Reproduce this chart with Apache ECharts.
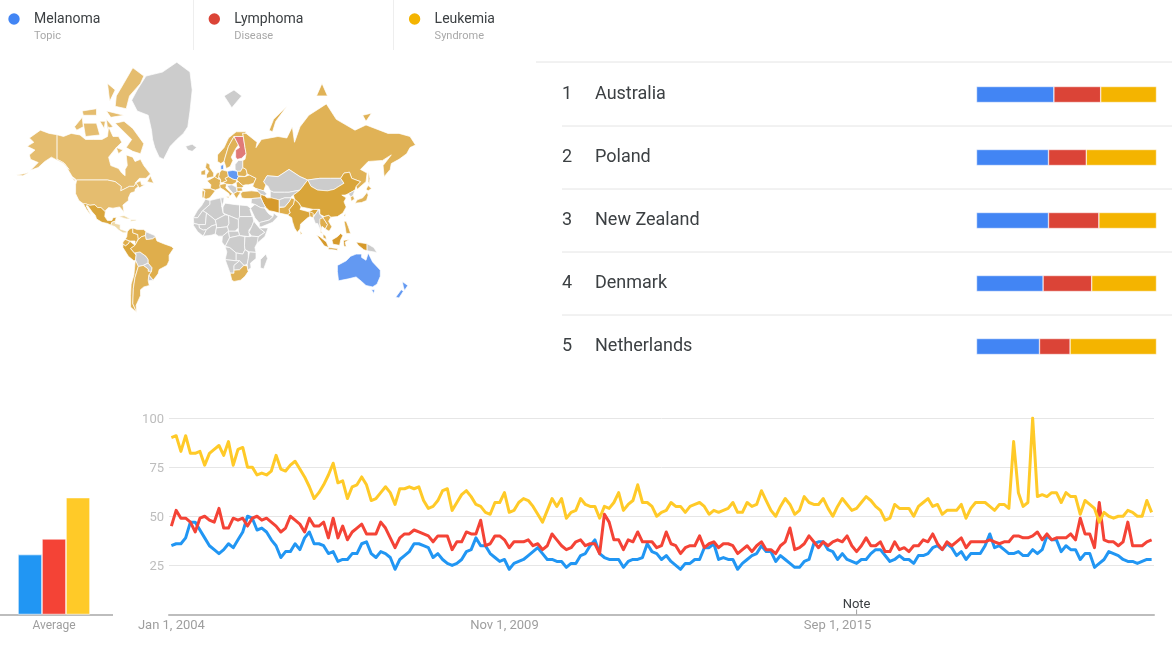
<!DOCTYPE html>
<html><head><meta charset="utf-8">
<style>html,body{margin:0;padding:0;background:#fff}#c{width:1172px;height:647px}</style>
<script src="https://cdn.jsdelivr.net/npm/echarts@6/dist/echarts.min.js"></script>
</head><body><div id="c"></div>
<script>
const topics = ['Melanoma','Lymphoma','Leukemia'];
const topicTypes = ['Topic','Disease','Syndrome'];
const topicColors = ['#4285f4','#db4437','#f4b400'];
const lineColors = ['#2196f3','#f44336','#ffca28'];

const melanoma = [35,36,36,39,47,47,43,39,35,33,31,33,36,34,38,42,50,49,43,44,42,38,35,29,32,32,36,33,39,42,36,36,35,31,32,27,28,28,31,31,36,37,31,29,32,31,29,23,28,30,32,36,36,35,34,29,31,28,26,25,26,28,32,33,39,
35,35,31,29,27,28,23,26,27,28,30,32,34,31,28,28,27,27,24,26,26,30,31,35,38,31,29,28,28,28,24,27,28,28,29,36,32,31,28,30,27,25,23,26,26,28,28,34,34,36,28,29,28,28,23,26,28,30,31,35,32,32,27,30,28,26,24,24,27,28,36,37,
37,33,32,28,31,28,27,26,28,28,31,33,33,30,27,28,30,28,28,26,30,30,31,34,35,33,36,34,30,32,28,31,31,31,35,41,34,35,33,31,31,32,30,30,33,31,33,40,38,38,32,35,33,33,28,31,31,24,26,28,32,31,30,28,27,27,26,27,28,28];
const lymphoma = [45,53,49,49,47,42,49,50,48,47,54,44,44,49,48,49,45,49,50,48,49,47,45,42,44,50,48,46,42,49,45,45,47,39,49,39,45,38,42,44,46,41,41,41,47,44,39,34,39,41,41,43,42,41,40,37,40,40,40,33,37,37,42,41,41,
48,35,36,40,40,38,34,37,37,37,38,35,36,33,35,41,38,35,33,34,37,38,35,36,36,31,51,47,38,38,33,38,37,42,37,37,37,34,35,42,36,35,31,34,35,35,40,34,36,37,34,36,36,35,31,33,35,32,35,37,33,33,31,35,37,44,33,34,36,40,37,34,
37,35,37,38,37,40,35,32,35,39,35,35,37,32,32,37,33,34,32,35,35,38,37,41,36,33,37,35,37,39,34,37,37,37,37,38,37,36,37,37,40,40,39,39,40,42,38,41,38,39,39,39,41,38,49,41,41,34,57,38,37,37,35,37,47,35,35,35,37,38];
const leukemia = [90,91,83,91,82,82,83,76,82,84,86,81,88,76,84,85,75,75,71,72,71,73,81,74,73,76,78,74,70,65,59,62,66,71,77,67,68,59,65,66,70,66,58,59,62,65,62,56,64,64,65,64,65,58,54,55,58,63,64,53,57,61,63,60,56,
55,52,51,57,57,62,52,53,57,59,58,55,51,47,53,59,55,59,49,52,53,59,56,55,55,49,55,54,57,62,53,56,58,66,57,57,55,50,52,53,57,55,55,52,55,56,57,55,51,53,52,53,54,57,52,52,57,55,56,63,58,53,50,55,59,56,51,53,60,57,56,56,
59,54,50,55,59,56,53,54,57,60,58,55,53,48,49,56,54,54,54,50,55,57,59,55,56,51,53,53,53,56,49,54,57,57,57,55,53,56,56,54,88,62,55,57,100,60,61,60,62,62,57,62,60,60,51,58,56,54,47,52,50,49,50,50,53,52,50,50,58,52];

const averages = [30.5,38.5,59.5];
const rankCountries = ['Australia','Poland','New Zealand','Denmark','Netherlands'];
const rankMelanoma = [43,40,40,37,35];
const rankLymphoma = [26,21,28,27,17];
const rankLeukemia = [31,39,32,36,48];

const yTicks = [0,25,50,75,100];
const noteMonth = 144;
const months = ['Jan','Feb','Mar','Apr','May','Jun','Jul','Aug','Sep','Oct','Nov','Dec'];
const categories = melanoma.map((_, i) => months[i % 12] + ' 1, ' + (2004 + Math.floor(i / 12)));

// Country outlines, longitude latitude pairs; several parts separated by "|".
const outlines = {
Canada:"-141 69.6,-135 69,-128 70,-120 69.5,-115 68,-108 68,-100 68,-95 69,-94 72,-90 69,-85 69,-82 67,-87 65,-94 61,-92 57,-85 55.5,-82 53,-79 51.5,-79 55,-77 57,-78 62,-72 61,-70 59,-65 60,-62 57,-56 52.5,-60 50,-66 50,-70 47,-65 48.5,-64 46,-61 46,-66 44,-67 45,-69 47,-71 45,-75 45,-79 43.5,-83 42,-82.5 45,-88 48,-95 49,-123 49,-127 51,-130 54,-134 58,-137 59,-141 60|-80 73.5,-72 71.5,-62 66.5,-65 62.5,-72 63.5,-78 65,-73 68,-88 73|-117 73,-105 73,-102 69.5,-115 69|-88 77,-78 76.5,-75 79,-65 81,-62 82,-72 83,-82 80.5,-87 79|-95 81,-88 80,-93 78|-125 72,-118 74.5,-117 72,-123 71|-96 76,-80 75,-92 74.5|-118 76,-105 76.5,-105 75,-117 75|-96 74,-90 72,-95 71.5|-102 73.5,-97 73.5,-98 71.5|-87 65,-81 64,-85 62.5|-59 48,-56 51.5,-53 47|-128 50.5,-124 49,-125 48.5",
USA:"-141 69.6,-141 60,-137 59,-134 58,-130 55,-135 58,-146 61,-152 59,-158 56,-165 54.5,-158 58.5,-165 60,-166 62,-161 64,-168 65.5,-162 67,-166 68.5,-156 71,-148 70|-123 49,-95 49,-88 48,-82.5 45,-83 42,-79 43.5,-75 45,-71 45,-69 47,-67 45,-70 43,-70 41.5,-74 40.5,-76 37,-76 35,-81 31.5,-80 25.5,-82 28,-84 30,-90 29,-94 29.5,-97 27,-97 26,-101 29.5,-104 29.5,-106.5 31.8,-111 31.3,-115 32.5,-117 32.5,-121 35,-124 40,-124 46|-178 52,-172 52.5,-166 53.5,-172 51.5",
Greenland:"-73 78.2,-68 80,-60 82,-45 82.5,-32 83.6,-20 82.5,-18 80,-20 76,-22 72,-26 70,-32 68,-38 65.5,-42 62,-44 60,-48 61,-52 65,-54 68,-55 71,-58 75,-68 76",
Iceland:"-24 65.5,-18 66.3,-14 65,-18 63.5,-22 64",
Svalbard:"11 79,20 80,27 79,18 76.7",
Mexico:"-117 32.5,-115 32.5,-111 31.3,-106.5 31.8,-104 29.5,-101 29.5,-97 26,-97.5 22,-95 18.5,-91 18.7,-90 21,-87 21.5,-88 18,-91 17,-92 14.5,-95 16,-100 17,-105 20,-106 23,-109 26,-113 31,-114.5 31,-111 25,-110 23,-114 28",
CentralAmerica:"-92 14.5,-91 17,-88 18,-88 16,-83.5 15,-83.5 11,-79 9.5,-77 8.5,-78 7.5,-81 7.5,-85 10,-88 13",
Caribbean:"-85 22,-80 23,-74 20,-78 20|-74 19.5,-69 19.5,-69 18.3,-74 18",
Colombia:"-77 8.5,-75 11,-72 12,-72 7.5,-67.5 6,-67 2,-70 -4,-70 0,-75 0,-79 1.5,-77.5 4",
Venezuela:"-72 12,-68 10.5,-62 10.5,-60 8.5,-60.5 5,-64 4,-67 1.5,-67.5 6,-72 7.5",
Guianas:"-60 8.5,-52 5,-51.5 4,-54 2,-58 1.5,-60 1.5,-60.5 5",
Ecuador:"-79 1.5,-75 0,-75.5 -2,-78.5 -4.5,-81 -3,-81 -1",
Peru:"-81 -3,-78.5 -4.5,-75.5 -2,-75 0,-70 -4,-74 -7,-70.5 -11,-69 -13,-69.5 -17.5,-71 -18,-76 -14,-81 -6",
Bolivia:"-69.5 -10,-65.5 -10,-60 -14,-58 -17,-58 -20,-62.5 -22,-67 -23,-69.5 -17.5,-69 -13",
Paraguay:"-62.5 -22,-58 -20,-54.5 -24,-55 -27,-58 -27,-58 -25",
Brazil:"-70 -4,-67 1.5,-64 4,-60.5 5,-60 1.5,-58 1.5,-54 2,-51.5 4,-50 0,-44 -2.5,-37 -5,-35 -7,-39 -13,-39 -18,-41 -22,-48 -25.5,-49 -29,-53.5 -34,-57.5 -30,-55 -27,-54.5 -24,-58 -20,-58 -17,-60 -14,-65.5 -10,-70.5 -11,-74 -7",
Uruguay:"-57.5 -30,-53.5 -34,-58 -34.5",
Chile:"-69.5 -17.5,-67 -23,-70 -32,-71.5 -40,-72 -50,-68.5 -55,-74 -52,-74 -45,-73.5 -37,-71 -30,-70 -20",
Argentina:"-67 -23,-62.5 -22,-58 -25,-58 -27,-55 -27,-57.5 -30,-58 -34.5,-57 -38,-62 -39,-65 -41,-65 -45,-69 -51,-68.5 -55,-72 -50,-71.5 -40,-70 -32",
Norway:"5 59,5 62,11 65,15 68.5,22 70.5,31 70.5,29 69,20 69,15 65.5,12 61,11 59,8 58",
Sweden:"11 59,12 61,15 65.5,20 69,24 66,21.5 64.5,17.5 61,19 59.5,16.5 56.5,13 55.5",
Finland:"20 69,29 69,28 70,30 65,31 62.5,27 60.5,23 60,21.5 61,21.5 64,25 65,24 66",
Denmark:"8 55,8 57,10.5 57.5,10.5 55",
UK:"-5 50,1.5 51,1.5 53,-2 56,-2 57.5,-5 58.5,-6 56,-3 54,-5 52",
Ireland:"-10 52,-6 52,-6 55,-10 54",
France:"-1.5 43.5,3 42.5,7.5 43.7,7.5 47.5,8 49,2.5 51,-1.5 49.5,-4.5 48.5,-1 46",
Spain:"-9 43.5,-1.5 43.5,3 42,0 39,-2 37,-5.5 36,-7.5 37,-6.5 42",
Portugal:"-9 37,-7.5 37,-6.5 42,-9 42",
Italy:"7.5 44,7 46,13 47,13 45.5,12.5 44,16 41.5,18.5 40,16 38,15.5 40,11 42.5|12.5 38,15.5 38,15 36.7",
Germany:"6 51,7 53.5,9 54.8,14 54,15 51,12 50,13.5 48.5,10 47.5,7.5 47.5,8 49",
Benelux:"2.5 51,6 49.5,6 51,7 53.5,4.5 53",
Poland:"14 54,19 54.5,23 54,24 51,22.5 49,19 49.5,15 51",
Baltics:"21 55,21 57.5,24 59.5,28 59.5,28 56,26 54,23 54",
Belarus:"23.5 51.5,23 54,26 54,28 56,31 55,32 52.5,30 51",
Ukraine:"22.5 49,24 51,30 51,34 52,40 50,38 47,33 46,30.5 46,28 45.5,24 48",
CentralEurope:"12 50,15 51,19 49.5,22.5 49,22 47.5,18 46,13 46.5,10 47.5,13.5 48.5",
Romania:"22 47.5,24 48,28 45.5,29 45,27 44,22.5 44",
Balkans:"13.5 45.5,18 46,22 44.5,23 41.5,19.5 40,16 43",
Bulgaria:"22.5 44,27 44,28 42,23 41.5",
Greece:"19.5 40,23 41.5,26 41,23.5 38,22.5 36.5,21 38",
Turkey:"26 40,28 41.5,36 42,42 41.5,44.5 39.5,44.5 37,36 36.5,30 36.5,27 37",
Russia:"28 56,28 59.5,30 60,31 62.5,30 65,28 70,31 70,41 67,40 65,45 68,60 69,68 68.5,73 72,75 67,80 72,88 75,104 77.5,113 74,130 71,140 72.5,160 70,170 70,180 69,185 66,180 65,177 62.5,170 60,163 58,162 55,156.5 51,155.5 57,163 62,155 59.5,142 59,135 55,141 53,140 48,132 43,131 45,135 48,127 50,125 53.5,120 53,117 50,108 50,98 50,87 49,80 51,70 55,60 51,50 51.5,47 48,49 46,47 42,40 43.5,37 45,38 47,40 50,34 52,32 52.5,31 55|142 54,143.5 50,143 46,142 48|52 71,56 74,68 77,58 73.5,55 70.5|95 79,105 79,100 81|137 75,145 75.5,140 73.5",
Kazakhstan:"49 46,47 48,50 51.5,60 51,70 55,80 51,87 49,80 42.5,70 41,66 41,56 41,53 42,51 45",
CentralAsia:"53 37,53 42,56 41,66 41,70 41,80 42.5,74 39,71 37,66 37,61 35.5",
Caucasus:"40 43.5,47 42,50 40,48 38.5,44.5 39.5,42 41.5",
Mongolia:"87 49,98 50,108 50,117 50,120 47,111 43,105 42,96 42.5,90 45",
China:"74 39,80 42.5,87 49,90 45,96 42.5,105 42,111 43,120 47,117 50,120 53,125 53.5,127 50,135 48,131 45,130 42.5,124 40,121 39,118 39,122 37,120 34,122 30,119 25,114 22,108 21.5,106 23,102 22,98 24,98 28,92 28,81 30,79 33,75 36",
NorthKorea:"124 40,130 42.5,128 38.5,126 37.8",
SouthKorea:"126 37.8,128.5 38.5,129.5 36,126.5 34.5",
Japan:"130 33,132 35.5,137 37,141 41,142 39,140.5 35,136 33.5|140 43,142 45.5,145 43.5,142 42",
Taiwan:"120 23,121.5 25,121 22",
India:"68.5 23.5,71 25,70 28,74 32,75 36,79 33,81 30,80 28,88 26,92 28,97 28,94 24,92 23,89 22,87 21,80.5 15.5,80 11,77.5 8,75 12,73 18,72.5 21",
Pakistan:"61 25,61 29.5,66 30,70 34,72 37,75 36,74 32,70 28,71 25,68.5 23.5",
Afghanistan:"61 30,61 35.5,66 37,71 37,72 37,70 34,66 30",
Iran:"44.5 39.5,48 38.5,50 37,54 37,61 35.5,61 29.5,61 25,57 26,52 27,48.5 30,46 34,44.5 37",
Iraq:"36 36.5,44.5 37,46 34,48.5 30,47 29,44 29.5,39 32,35.5 33",
Saudi:"35 29,39 32,44 29.5,48 29,50 26,52 24,55.5 22,52 19,44 17,43 16.5,39 21",
Oman:"43 13,43 16.5,44 17,52 19,55.5 22,56 25,60 22,55 17,45 13",
Egypt:"25 31.5,32 31,35 29,34.5 28,36.5 22,25 22",
Libya:"12 33,20 32,25 31.5,25 20,24 19.5,15 23,10 25,10 30",
Algeria:"-2 35,8 37,9 30,10 25,12 23.5,3 19,-5 25,-8.5 27,-2 32",
Tunisia:"8 37,11 37,10.5 34,10 33,9 30",
Morocco:"-6 36,-2 35,-2 32,-8.5 27,-13 21,-17 21,-13 27.5,-9.5 31",
Mauritania:"-17 21,-13 21,-8.5 27,-5 25,-6 15,-12 15,-16.5 16",
Mali:"-12 15,-6 15,-5 25,3 19,4 15,0 14,-5 10.5,-8 10,-11.5 12",
Niger:"3 19,12 23.5,15 23,15.5 16,14 13,4 12,4 15",
Chad:"15 23,24 19.5,24 12,21 9,15 9,14 13,15.5 16",
Sudan:"24 19.5,25 22,37 22,38 18,36 13,33.5 10,34 4,25 5,24 9,24 12",
Ethiopia:"36 13,38 18,43 12,48 8,42 4,36 4.5,33.5 8",
Somalia:"43 12,51 12,48 4,41 -2,41 3,48 8",
Senegal:"-17 14.5,-16.5 16,-12 15,-11.5 12,-8 10,-5 10.5,-8 4.5,-13 8.5",
IvoryCoast:"-8 4.5,-5 10.5,0 14,4 15,4 12,3 6.5,0 5.5,-3 5",
Nigeria:"3 6.5,4 12,14 13,15 9,9.5 4.5,6 4.5",
Cameroon:"9.5 4.5,15 9,16 3,14 -1,12 -5,9 -1",
CAR:"15 9,21 9,24 9,25 5,18 3.5,16 3",
DRC:"12 -5,14 -1,16 3,18 3.5,25 5,30 4,29.5 -4,30 -8,28 -12,22 -11,16 -6",
Kenya:"30 4,34 4,36 4.5,42 4,41 -2,39 -6,40 -10.5,34 -10,30 -8,29.5 -4",
Angola:"12 -5.5,16 -6,22 -11,22 -18,12 -17,13.5 -10",
Zambia:"22 -11,28 -12,30 -8,33 -10,33 -16,32 -21,29 -22,25 -18,22 -18",
Mozambique:"34 -10,40 -10.5,40 -16,35 -20,35.5 -24,32.5 -26,32 -21,33 -16",
Namibia:"12 -17,22 -18,25 -18,20 -22,20 -28.5,16.5 -28.5",
Botswana:"20 -22,25 -18,29 -22,25 -25.7,20 -26",
SouthAfrica:"16.5 -28.5,20 -28.5,20 -26,25 -25.7,29 -22,32 -22.5,32.5 -26,33 -27,30 -31,26 -34,20 -35,18 -34",
Madagascar:"44 -17,49 -12,50.5 -16,47 -25,44 -24",
Myanmar:"92 21,94 24,97 28,98 24,101 21,98 16,98.5 10,96 16,94 16",
Bangladesh:"88.5 26,92 25,92 21,89 22",
Thailand:"98 16,98 20,101 21,105 15,103 11,100 13.5,99 9,101 6.5,98.5 8,99 12",
Vietnam:"102 22,106 23,108 21.5,106 18,109 13,106.5 9,103 11,105 15,101 21",
Malaysia:"101 6.5,103.5 4.5,104 1.5,101 3",
Philippines:"120 18,122 18,124 13,126 7,122 7,121 13",
Indonesia:"95 5.5,98 4,104 -1,106 -6,102 -4.5|105.5 -6,114 -7,114 -8.5,106 -7.5|109 1,114 4,117 7,119 5,117 1,116 -4,110 -3|119.5 0.5,125 1.5,121 -1,122 -5,120 -5|131 -1,141 -2.5,141 -9,138 -8,133 -4",
PNG:"141 -2.5,147 -6,150 -10.5,141 -9",
SriLanka:"80 9.5,82 7,80.5 6",
Australia:"114 -22,122 -18,126 -14,131 -12,136 -12,136 -15,140 -17.5,142 -11,146 -19,153 -26,153 -31,150 -37,146 -39,140 -38,136 -35,131 -31.5,124 -33,115 -34.5,114 -27|145 -41,148 -41,147 -43.5",
NewZealand:"173 -35,178 -38,175 -41.5,174 -39|172 -41,174 -42,170 -46.5,167 -46"
};

// Which map colour each country takes.
const mapShades = {
 '#e5bd6f':['Canada','USA'],
 '#e0b256':['Russia','Argentina','Chile','Norway','Sweden','UK','Ireland','France','Spain','Portugal','Italy','Germany','Benelux','Belarus','Ukraine','CentralEurope','Romania','Bulgaria','Greece','Turkey','SouthAfrica','Japan','SouthKorea','Taiwan'],
 '#dfae4c':['Brazil','Venezuela','Colombia','Ecuador','Pakistan','Malaysia','Philippines','Thailand','Vietnam','Bangladesh','SriLanka'],
 '#d9a53a':['China','India','Mexico','Peru'],
 '#d69a2c':['Iran','Indonesia'],
 '#eed9a8':['CentralAmerica','Caribbean'],
 '#6399f2':['Australia','NewZealand','Poland','Denmark'],
 '#e07a78':['Finland']
};

const features = Object.keys(outlines).map(name => ({
  type:'Feature', properties:{name},
  geometry:{type:'MultiPolygon', coordinates: outlines[name].split('|').map(part => {
    const ring = part.split(',').map(p => p.trim().split(' ').map(Number));
    ring.push(ring[0].slice());
    return [ring];
  })}
}));
echarts.registerMap('world', {type:'FeatureCollection', features});

const mapRegions = [];
Object.keys(mapShades).forEach(c => mapShades[c].forEach(name => mapRegions.push({name, itemStyle:{areaColor:c}})));

const R2D = 180/Math.PI;
const mercator = {
  project: p => [212 + 1.1*p[0], 241 - 62*Math.log(Math.tan(Math.PI/4 + p[1]/R2D/2))],
  unproject: p => [(p[0]-212)/1.1, (2*Math.atan(Math.exp((241-p[1])/62)) - Math.PI/2)*R2D]
};

const font = 'Roboto, sans-serif';
const graphic = [];
topics.forEach((t,i) => {
  const x0 = 14 + i*200.3;
  graphic.push({type:'circle', shape:{cx:x0, cy:19, r:5.7}, style:{fill:topicColors[i]}, silent:true});
  graphic.push({type:'text', x:x0+20, y:19.5, style:{text:t, fill:'#3c4043', font:'14px '+font, textVerticalAlign:'middle'}, silent:true});
  graphic.push({type:'text', x:x0+20, y:36.5, style:{text:topicTypes[i], fill:'#a8a8a8', font:'11px '+font, textVerticalAlign:'middle'}, silent:true});
});
[193.5,393.5].forEach(x => graphic.push({type:'line', shape:{x1:x,y1:0,x2:x,y2:50}, style:{stroke:'#eeeeee',lineWidth:1}, silent:true}));
graphic.push({type:'line', shape:{x1:536,y1:62,x2:1172,y2:62}, style:{stroke:'#e4e4e4',lineWidth:1}, silent:true});
[126,189,252,315].forEach(y => graphic.push({type:'line', shape:{x1:562,y1:y,x2:1172,y2:y}, style:{stroke:'#e4e4e4',lineWidth:1}, silent:true}));
graphic.push({type:'line', shape:{x1:0,y1:615,x2:113,y2:615}, style:{stroke:'#bdbdbd',lineWidth:2}, silent:true});

const option = {
  animation:false,
  backgroundColor:'#fff',
  textStyle:{fontFamily:font},
  graphic,
  geo:{map:'world', projection:mercator, left:0, top:50, width:430, height:270,
    boundingCoords:[mercator.unproject([0,50]), mercator.unproject([430,320])],
    roam:false, silent:true, label:{show:false}, regions:mapRegions,
    itemStyle:{areaColor:'#cccccc', borderColor:'#ffffff', borderWidth:0.7}},
  grid:[
    {left:169, top:418, width:985, height:196.5},
    {left:0, top:418, width:108, height:196.5},
    {left:976.5, top:63, width:180, height:315}
  ],
  xAxis:[
    {gridIndex:0, type:'category', data:categories, boundaryGap:true,
      axisTick:{show:false}, axisLine:{lineStyle:{color:'#bdbdbd',width:2}},
      axisLabel:{interval:69, color:'#9e9e9e', fontSize:13, margin:5, hideOverlap:false}},
    {gridIndex:1, type:'category', data:['Average'],
      axisTick:{show:false}, axisLine:{show:false},
      axisLabel:{color:'#9e9e9e', fontSize:12, margin:5}},
    {gridIndex:2, type:'value', min:0, max:100, show:false}
  ],
  yAxis:[
    {gridIndex:0, type:'value', min:yTicks[0], max:yTicks[4], interval:25,
      axisLine:{show:false}, axisTick:{show:false},
      splitLine:{lineStyle:{color:'#e6e6e6',width:1}},
      axisLabel:{margin:5, formatter:v => v===0 ? '' : '{t|'+v+'}',
        rich:{t:{color:'#bdbdbd', fontSize:13, fontFamily:font, padding:[3,0,0,0]}}}},
    {gridIndex:1, type:'value', min:0, max:100, show:false},
    {gridIndex:2, type:'category', inverse:true, data:rankCountries,
      axisLine:{show:false}, axisTick:{show:false}, splitLine:{show:false},
      axisLabel:{align:'left', margin:414.5,
        formatter:(v,i) => '{n|'+(i+1)+'}{c|'+v+'}',
        rich:{n:{width:33, fontSize:18, color:'#3c4043', fontFamily:font}, c:{fontSize:18, color:'#3c4043', fontFamily:font}}}}
  ],
  series:[
    ...[melanoma,lymphoma,leukemia].map((d,i) => ({
      type:'line', name:topics[i], xAxisIndex:0, yAxisIndex:0, data:d, showSymbol:false, symbol:'none',
      lineStyle:{color:lineColors[i], width:3, join:'round'}, silent:true,
      ...(i===2 ? {markPoint:{silent:true, symbol:'rect', symbolSize:[1,5], symbolOffset:[0,-2.5],
        itemStyle:{color:'#9e9e9e'}, data:[{coord:[noteMonth,0]}],
        label:{show:true, position:'top', distance:0, offset:[0,2], formatter:'Note', color:'#3c4043', fontSize:13, fontFamily:font}}} : {})
    })),
    ...averages.map((v,i) => ({
      type:'bar', name:topics[i], xAxisIndex:1, yAxisIndex:1, data:[v], barWidth:24, barGap:'0%',
      itemStyle:{color:lineColors[i], borderColor:'#fff', borderWidth:0.6}, silent:true
    })),
    ...[rankMelanoma,rankLymphoma,rankLeukemia].map((d,i) => ({
      type:'bar', name:topics[i], stack:'rank', xAxisIndex:2, yAxisIndex:2, data:d, barWidth:16,
      itemStyle:{color:topicColors[i], borderColor:'#fff', borderWidth:0.5}, silent:true
    }))
  ]
};
echarts.init(document.getElementById('c'), null, {renderer:'canvas'}).setOption(option);
</script></body></html>
